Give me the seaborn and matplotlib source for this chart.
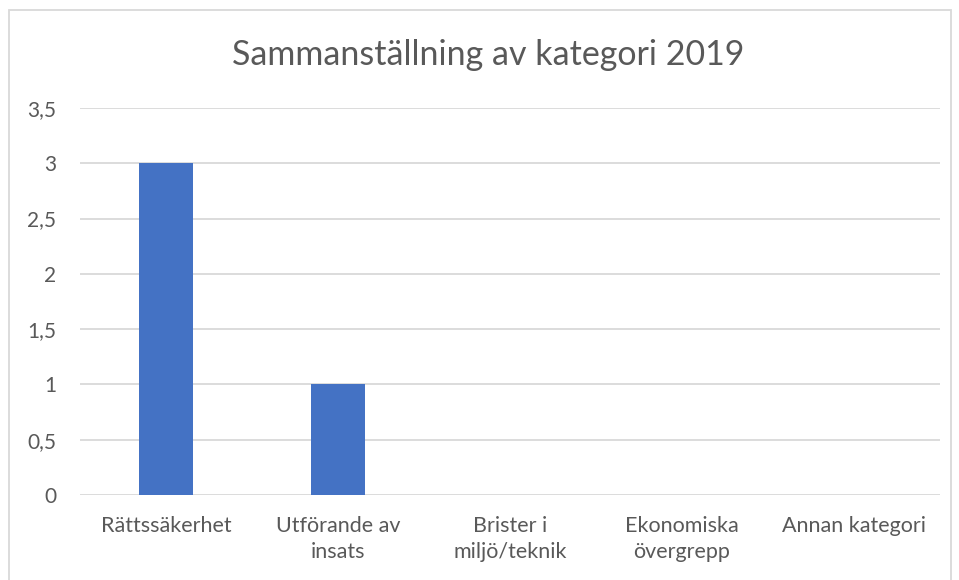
import matplotlib
matplotlib.use("Agg")
import matplotlib.pyplot as plt
import matplotlib.ticker as mticker
from matplotlib.patches import Rectangle
import pandas as pd
import seaborn as sns

categories = [
    "Rättssäkerhet",
    "Utförande av\ninsats",
    "Brister i\nmiljö/teknik",
    "Ekonomiska\növergrepp",
    "Annan kategori",
]
counts = [3, 1, 0, 0, 0]
y_ticks = [0, 0.5, 1, 1.5, 2, 2.5, 3, 3.5]

df = pd.DataFrame({"kategori": categories, "antal": counts})

sns.set_style("white")
plt.rcParams["font.family"] = ["Lato", "DejaVu Sans"]
text_color = "#595959"
grid_color = "#d9d9d9"

fig = plt.figure(figsize=(9.59, 5.80), dpi=100)
ax = fig.add_axes([0.0834, 0.1466, 0.8968, 0.6672])

sns.barplot(data=df, x="kategori", y="antal", color="#4472C4",
            width=0.31, saturation=1, linewidth=0, ax=ax, zorder=3)

ax.set_ylim(0, 3.5)
ax.set_yticks(y_ticks)
ax.yaxis.set_major_formatter(
    mticker.FuncFormatter(lambda v, _: f"{v:g}".replace(".", ","))
)
ax.grid(axis="y", color=grid_color, linewidth=1.3, zorder=0)
ax.set_axisbelow(True)
sns.despine(ax=ax, left=True, bottom=True, top=True, right=True)
ax.tick_params(axis="y", length=0, pad=17, labelsize=15, labelcolor=text_color)
ax.tick_params(axis="x", length=0, pad=15, labelsize=15.5, labelcolor=text_color)
for lbl in ax.get_xticklabels():
    lbl.set_linespacing(1.4)
ax.set_xlabel("")
ax.set_ylabel("")

fig.text(0.509, 0.905, "Sammanställning av kategori 2019", ha="center",
         va="center", fontsize=24.5, color=text_color)

# light frame like the exported chart area
fig.patches.append(Rectangle((0.0094, -0.05), 0.982, 1.033, transform=fig.transFigure,
                             fill=False, edgecolor=grid_color, linewidth=1.3))

fig.savefig("out.png", dpi=100)
